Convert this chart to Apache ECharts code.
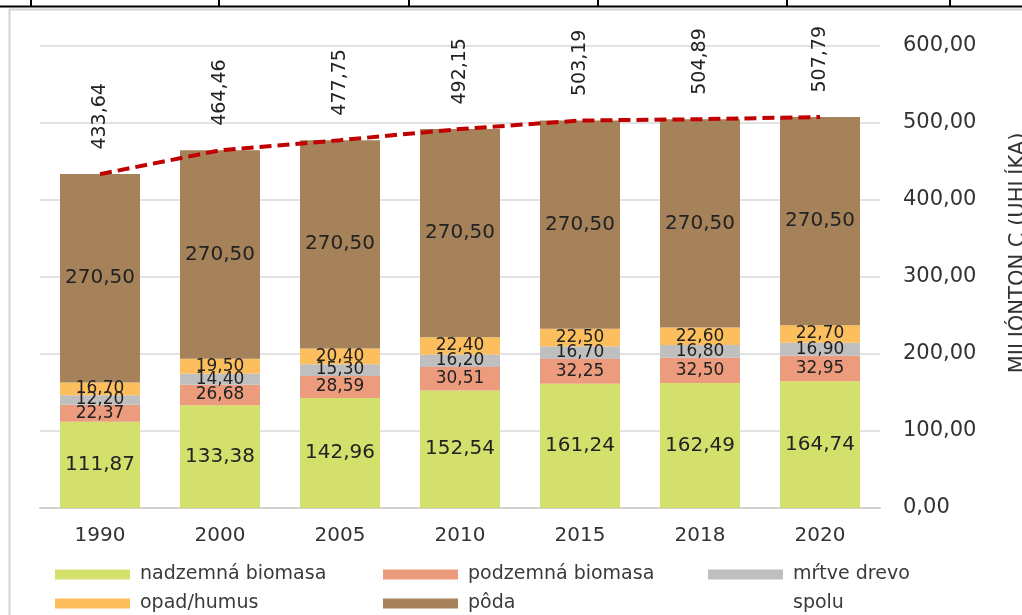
<!DOCTYPE html>
<html>
<head>
<meta charset="utf-8">
<script src="https://cdn.jsdelivr.net/npm/echarts@6/dist/echarts.min.js"></script>
<style>
html,body{margin:0;padding:0;background:#fff;}
#chart{width:1022px;height:615px;}
</style>
</head>
<body>
<div id="chart"></div>
<script>
const years = ['1990', '2000', '2005', '2010', '2015', '2018', '2020'];
const nadzemnaBiomasa = [111.87, 133.38, 142.96, 152.54, 161.24, 162.49, 164.74];
const podzemnaBiomasa = [22.37, 26.68, 28.59, 30.51, 32.25, 32.50, 32.95];
const mrtveDrevo = [12.20, 14.40, 15.30, 16.20, 16.70, 16.80, 16.90];
const opadHumus = [16.70, 19.50, 20.40, 22.40, 22.50, 22.60, 22.70];
const poda = [270.50, 270.50, 270.50, 270.50, 270.50, 270.50, 270.50];
const spolu = [433.64, 464.46, 477.75, 492.15, 503.19, 504.89, 507.79];
const yMin = 0, yMax = 600, yStep = 100;

const FONT = 'DejaVu Sans';
const fmt = v => Number(v).toFixed(2).replace('.', ',');

function barSeries(name, data, color, size) {
  return {
    name: name,
    type: 'bar',
    stack: 'total',
    data: data,
    barWidth: 80,
    itemStyle: { color: color },
    label: {
      show: true,
      position: 'inside',
      formatter: p => fmt(p.value),
      color: '#222',
      fontFamily: FONT,
      fontSize: size
    },
    emphasis: { disabled: true }
  };
}

const legendText = { fontFamily: FONT, fontSize: 19, color: '#3a3a3a', padding: [0, 0, 0, 5] };

function legendAt(name, left, top) {
  return {
    data: [name],
    left: left,
    top: top,
    padding: 0,
    icon: 'rect',
    itemWidth: 75,
    itemHeight: 10,
    selectedMode: false,
    textStyle: legendText
  };
}

const chart = echarts.init(document.getElementById('chart'));
chart.setOption({
  backgroundColor: '#fff',
  animation: false,
  grid: { left: 40, right: 142, top: 46, bottom: 107, containLabel: false, outerBoundsMode: 'none' },
  graphic: [
    { type: 'line', shape: { x1: 0, y1: 6.5, x2: 1022, y2: 6.5 }, style: { stroke: '#000', lineWidth: 2 } },
    { type: 'line', shape: { x1: 31, y1: 0, x2: 31, y2: 6 }, style: { stroke: '#000', lineWidth: 2 } },
    { type: 'line', shape: { x1: 219, y1: 0, x2: 219, y2: 6 }, style: { stroke: '#000', lineWidth: 2 } },
    { type: 'line', shape: { x1: 409, y1: 0, x2: 409, y2: 6 }, style: { stroke: '#000', lineWidth: 2 } },
    { type: 'line', shape: { x1: 598, y1: 0, x2: 598, y2: 6 }, style: { stroke: '#000', lineWidth: 2 } },
    { type: 'line', shape: { x1: 787, y1: 0, x2: 787, y2: 6 }, style: { stroke: '#000', lineWidth: 2 } },
    { type: 'line', shape: { x1: 950, y1: 0, x2: 950, y2: 6 }, style: { stroke: '#000', lineWidth: 2 } },
    { type: 'line', shape: { x1: 9.5, y1: 9, x2: 9.5, y2: 615 }, style: { stroke: '#d4d4d4', lineWidth: 2 } },
    { type: 'line', shape: { x1: 9, y1: 9.5, x2: 1022, y2: 9.5 }, style: { stroke: '#d4d4d4', lineWidth: 2 } }
  ],
  legend: [
    legendAt('nadzemná biomasa', 55, 565),
    legendAt('podzemná biomasa', 383, 565),
    legendAt('mŕtve drevo', 708, 565),
    legendAt('opad/humus', 55, 594),
    legendAt('pôda', 383, 594),
    {
      data: [{ name: 'spolu', icon: 'rect', itemStyle: { color: 'rgba(0,0,0,0)', opacity: 0 }, lineStyle: { opacity: 0 } }],
      left: 708, top: 594, padding: 0, itemWidth: 75, itemHeight: 10, selectedMode: false,
      textStyle: legendText
    }
  ],
  xAxis: {
    type: 'category',
    data: years,
    axisTick: { show: false },
    axisLine: { lineStyle: { color: '#d0d0d0', width: 2 } },
    axisLabel: { fontFamily: FONT, fontSize: 20, color: '#333', margin: 18 }
  },
  yAxis: {
    type: 'value',
    position: 'right',
    min: yMin,
    max: yMax,
    interval: yStep,
    name: 'MILIÓNTON C (UHLÍKA)',
    nameLocation: 'middle',
    nameRotate: 90,
    nameGap: 128,
    nameTextStyle: { fontFamily: FONT, fontSize: 21, color: '#333', padding: [0, 0, 0, 48] },
    axisLine: { show: false },
    axisTick: { show: false },
    axisLabel: { fontFamily: FONT, fontSize: 21, color: '#333', margin: 23, formatter: v => fmt(v) },
    splitLine: { lineStyle: { color: '#e2e2e2', width: 2 } }
  },
  series: [
    barSeries('nadzemná biomasa', nadzemnaBiomasa, '#d4e06c', 20),
    barSeries('podzemná biomasa', podzemnaBiomasa, '#ec9b7d', 17),
    barSeries('mŕtve drevo', mrtveDrevo, '#bfbfbf', 17),
    barSeries('opad/humus', opadHumus, '#fdbe5e', 17),
    barSeries('pôda', poda, '#a5825a', 20),
    {
      name: 'spolu',
      type: 'line',
      data: spolu,
      symbol: 'circle',
      symbolSize: 1,
      showSymbol: true,
      z: 5,
      lineStyle: { color: '#c00000', width: 4, type: [12, 6] },
      itemStyle: { color: 'rgba(0,0,0,0)', borderWidth: 0 },
      label: {
        show: true,
        position: 'top',
        distance: 24,
        rotate: 90,
        align: 'left',
        verticalAlign: 'middle',
        formatter: p => fmt(p.value),
        fontFamily: FONT,
        fontSize: 19,
        color: '#222'
      },
      labelLayout: { hideOverlap: false },
      emphasis: { disabled: true }
    }
  ]
});
</script>
</body>
</html>
